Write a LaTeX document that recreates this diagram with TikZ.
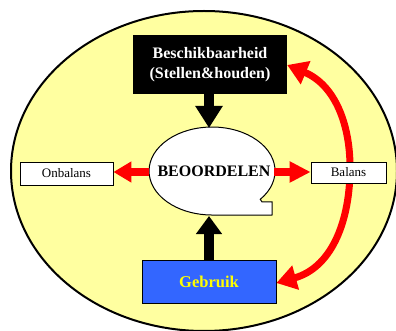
\documentclass[tikz,border=0pt]{standalone}
\usepackage{fontspec}
\setmainfont{Liberation Serif}
\usetikzlibrary{arrows.meta}
\definecolor{paleyellow}{RGB}{255,255,160}
\definecolor{boxblue}{RGB}{51,102,255}
\begin{document}
\begin{tikzpicture}[x=1pt,y=-1pt,
  smallbox/.style={draw=black,line width=0.8pt,fill=white,inner sep=0pt,font=\fontsize{13}{15}\selectfont},
  blackarrow/.style={line width=10pt,black,-{Triangle[length=22pt,width=26pt]}},
  redarrow/.style={line width=8pt,red,-{Triangle[length=18pt,width=20pt]}},
  redcurve/.style={line width=7pt,red,{Triangle[length=20pt,width=24pt]}-{Triangle[length=20pt,width=24pt]}}]
\useasboundingbox (0,0) rectangle (396,331);
\fill[white] (0,0) rectangle (396,331);
% big ellipse
\draw[line width=2pt,fill=paleyellow] (204,171) ellipse[x radius=193,y radius=160];
% main boxes (top and bottom)
\node[fill=black,minimum width=154pt,minimum height=59pt,inner sep=0pt,text=white,align=center,
  font=\fontsize{16}{20.5}\bfseries\selectfont] (besch) at (210,64.5) {Beschikbaarheid\\(Stellen\&houden)};
\node[draw=black,line width=0.8pt,fill=boxblue,minimum width=134pt,minimum height=43pt,inner sep=0pt,
  text={rgb,255:red,255;green,255;blue,0},font=\fontsize{16.5}{18}\bfseries\selectfont] (gebr) at (209,281.5) {Gebruik};
% red curved double arrow (behind the Balans box)
\coordinate (mid) at (350,172);
\draw[redcurve] (besch.east |- 0,65) .. controls (335,85) and (351,125) .. (mid) .. controls (349,225) and (330,268) .. (gebr.east |- 0,283);
% BEOORDELEN shape
\draw[line width=1pt,fill=white] (260.3,199.3) arc[start angle=40,end angle=-270,x radius=63,y radius=44] -- (272,215) -- (272,202) -- (262,202) -- cycle;
\node[font=\fontsize{16}{18}\bfseries\selectfont] (beo) at (214,171) {BEOORDELEN};
\coordinate (beoT) at (209,128);
\coordinate (beoB) at (209,216);
\coordinate (beoL) at (149,172);
\coordinate (beoR) at (274,172);
% side boxes
\node[smallbox,minimum width=93pt,minimum height=23pt] (onb) at (66.5,173.5) {Onbalans};
\node[smallbox,minimum width=75pt,minimum height=21pt] (bal) at (348.5,172.5) {Balans};
% arrows
\draw[blackarrow] (besch.south -| beoT) -- (beoT);
\draw[blackarrow,-{Triangle[length=18pt,width=25pt]}] (gebr.north -| beoB) -- (beoB);
\draw[redarrow] (beoL) -- (onb.east |- beoL);
\draw[redarrow,-{Triangle[length=21pt,width=20pt]}] (beoR) -- (bal.west |- beoR);
\end{tikzpicture}
\end{document}
